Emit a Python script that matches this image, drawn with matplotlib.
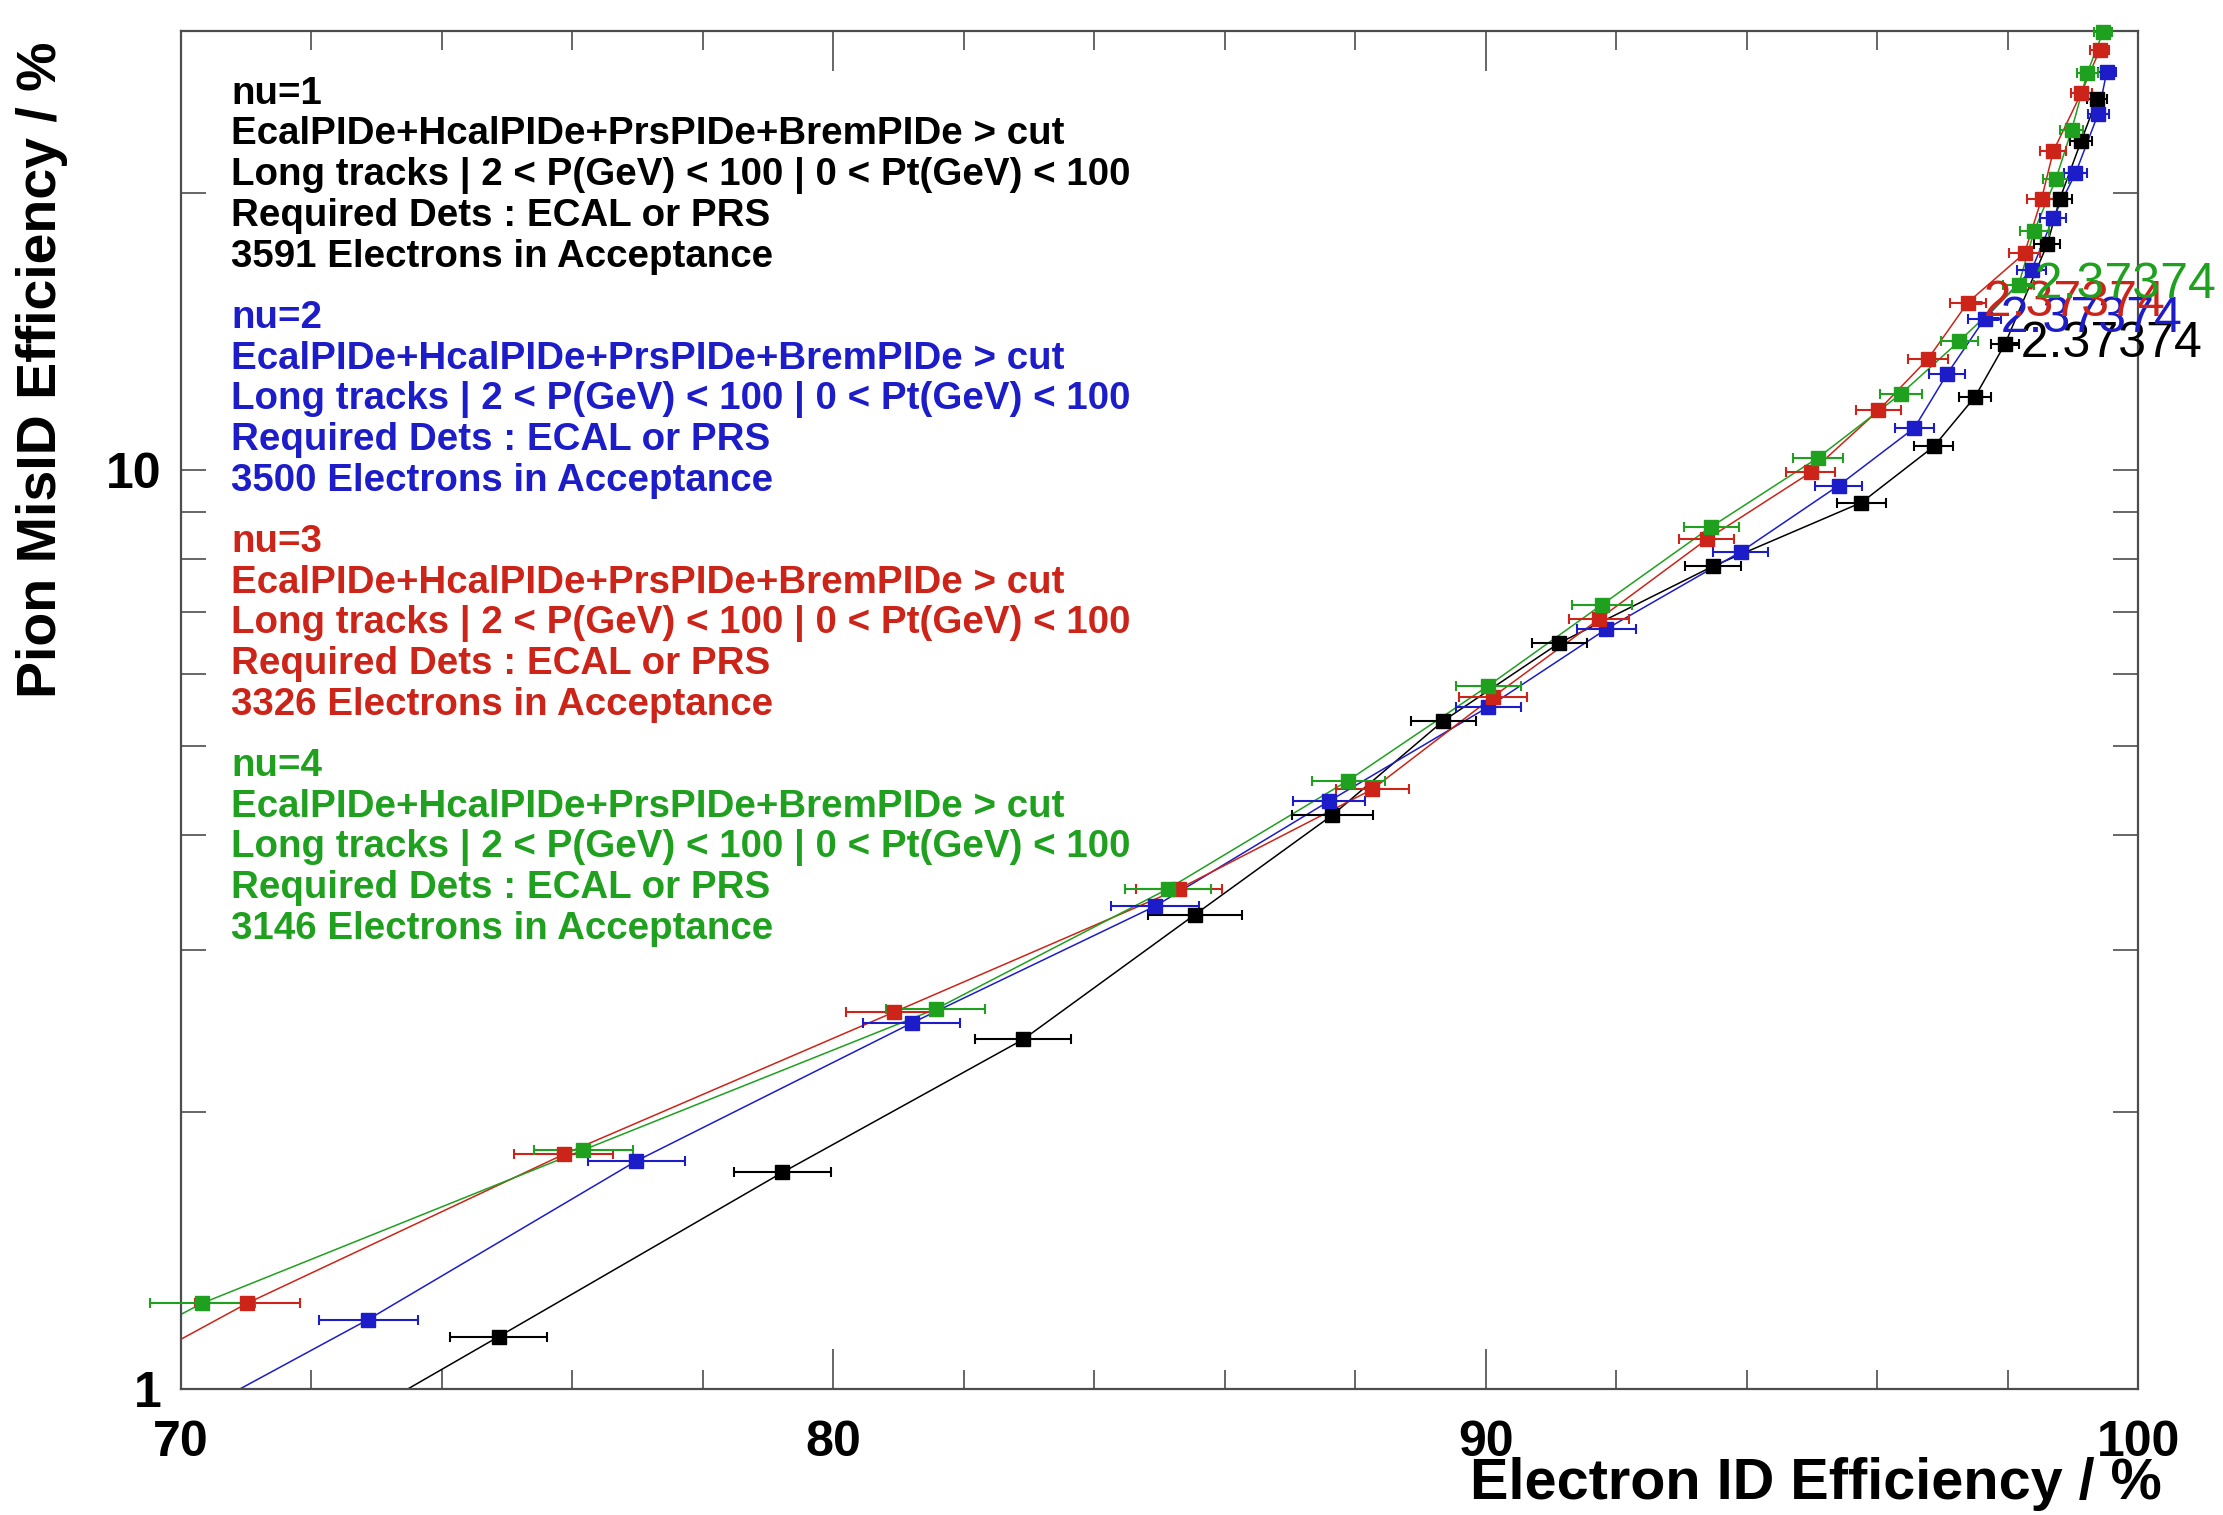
import numpy as np
import matplotlib
matplotlib.use("Agg")
import matplotlib.pyplot as plt
from matplotlib.ticker import NullFormatter

plt.rcParams['font.family'] = ['Liberation Sans', 'DejaVu Sans']
plt.rcParams['font.weight'] = 'bold'

# electron ID efficiency (%), pion misID efficiency (%) and x errors per nu
# (first point of each curve sits below the plotted range)
eff_nu1 = [68.9, 74.87, 79.22, 82.91, 85.54, 87.65, 89.35, 91.13, 93.48, 95.76,
           96.87, 97.50, 97.96, 98.61, 98.80, 99.13, 99.37]
mis_nu1 = [0.65, 1.14, 1.72, 2.40, 3.28, 4.21, 5.33, 6.48, 7.85, 9.21,
           10.6, 12.0, 13.7, 17.6, 19.7, 22.8, 25.3]
err_nu1 = [0.76, 0.74, 0.74, 0.74, 0.72, 0.62, 0.50, 0.42, 0.43, 0.37,
           0.30, 0.25, 0.22, 0.20, 0.19, 0.17, 0.15]

eff_nu2 = [67.5, 72.87, 76.98, 81.20, 84.93, 87.60, 90.04, 91.85, 93.91, 95.41,
           96.57, 97.07, 97.65, 98.37, 98.70, 99.04, 99.39, 99.52]
mis_nu2 = [0.74, 1.19, 1.77, 2.50, 3.35, 4.36, 5.52, 6.71, 8.14, 9.61,
           11.1, 12.7, 14.6, 16.5, 18.8, 21.0, 24.4, 27.1]
err_nu2 = [0.76, 0.76, 0.74, 0.74, 0.68, 0.55, 0.50, 0.45, 0.42, 0.36,
           0.30, 0.28, 0.25, 0.22, 0.20, 0.18, 0.16, 0.14]

eff_nu3 = [66.5, 71.02, 75.87, 80.93, 85.30, 88.26, 90.11, 91.74, 93.39, 94.98,
           96.02, 96.78, 97.39, 98.26, 98.52, 98.70, 99.13, 99.41]
mis_nu3 = [0.83, 1.24, 1.80, 2.57, 3.50, 4.49, 5.66, 6.88, 8.40, 9.93,
           11.6, 13.2, 15.2, 17.2, 19.7, 22.2, 25.7, 28.6]
err_nu3 = [0.80, 0.80, 0.76, 0.74, 0.66, 0.56, 0.52, 0.46, 0.42, 0.38,
           0.34, 0.30, 0.28, 0.24, 0.22, 0.20, 0.16, 0.14]

eff_nu4 = [66.0, 70.33, 76.17, 81.57, 85.13, 87.89, 90.04, 91.78, 93.46, 95.09,
           96.37, 97.26, 98.17, 98.41, 98.74, 98.98, 99.22, 99.46]
mis_nu4 = [0.855, 1.24, 1.82, 2.59, 3.50, 4.59, 5.82, 7.13, 8.67, 10.3,
           12.1, 13.8, 15.9, 18.2, 20.7, 23.4, 27.0, 29.9]
err_nu4 = [0.80, 0.80, 0.76, 0.76, 0.66, 0.56, 0.50, 0.46, 0.42, 0.38,
           0.32, 0.28, 0.24, 0.22, 0.20, 0.18, 0.16, 0.14]

# index of the point carrying the cut value label, and the label
cut_index = [12, 12, 12, 12]
cut_label = "-2.37374"

nu_names = ["nu=1", "nu=2", "nu=3", "nu=4"]
n_electrons = [3591, 3500, 3326, 3146]
colors = ['#000000', '#1c1cc8', '#cc2418', '#1fa01f']

info_lines = ["EcalPIDe+HcalPIDe+PrsPIDe+BremPIDe > cut",
              "Long tracks | 2 < P(GeV) < 100 | 0 < Pt(GeV) < 100",
              "Required Dets : ECAL or PRS",
              "{} Electrons in Acceptance"]

curves = [(eff_nu1, mis_nu1, err_nu1), (eff_nu2, mis_nu2, err_nu2),
          (eff_nu3, mis_nu3, err_nu3), (eff_nu4, mis_nu4, err_nu4)]

W, H = 2223, 1515
fig = plt.figure(figsize=(W / 100, H / 100), dpi=100)
fig.patch.set_facecolor('white')
ax = fig.add_axes([0.0814, 0.0832, 0.8804, 0.8963])

for (eff, mis, err), col, ci in zip(curves, colors, cut_index):
    ax.plot(eff, mis, '-', color=col, lw=1.1, zorder=2)
    ax.errorbar(eff[1:], mis[1:], xerr=err[1:], fmt='s', color=col,
                ms=10.5, elinewidth=1.5, capsize=3.5, capthick=1.5,
                clip_on=False, zorder=3)
    ax.text(eff[ci], mis[ci], cut_label, color=col, fontsize=36,
            fontweight='normal', ha='left', va='center', zorder=4)

ax.set_xlim(70, 100)
ax.set_yscale('log')
ax.set_ylim(1, 30)

ax.set_xticks([70, 80, 90, 100])
ax.set_xticklabels(['70', '80', '90', '100'])
ax.set_xticks(np.arange(70, 101, 2), minor=True)
ax.set_yticks([1, 10])
ax.set_yticklabels(['1', '10'])
ax.set_yticks([2, 3, 4, 5, 6, 7, 8, 9, 20, 30], minor=True)
ax.yaxis.set_minor_formatter(NullFormatter())

frame_col = '#4d4d4d'
ax.tick_params(axis='x', which='major', direction='in', length=29, width=1.2,
               color=frame_col, top=True, labelsize=36, pad=22)
ax.tick_params(axis='x', which='minor', direction='in', length=14, width=1.2,
               color=frame_col, top=True)
ax.tick_params(axis='y', which='both', direction='in', length=18, width=1.2,
               color=frame_col, right=True, labelsize=36, pad=14)
for sp in ax.spines.values():
    sp.set_color(frame_col)
    sp.set_linewidth(1.6)

ax.set_xlabel("Electron ID Efficiency / %", fontsize=41.5, fontweight='bold',
              ha='right', va='center')
ax.xaxis.set_label_coords(1.012, -0.07)
ax.set_ylabel("Pion MisID Efficiency / %", fontsize=40, fontweight='bold',
              ha='right', va='center')
ax.yaxis.set_label_coords(-0.071, 0.992)

# info block, one group of five lines per nu
x0 = 231 / W
for g, (name, n, col) in enumerate(zip(nu_names, n_electrons, colors)):
    lines = [name] + info_lines[:3] + [info_lines[3].format(n)]
    for i, txt in enumerate(lines):
        ypix = 93.6 + (g * 5.5 + i) * 40.76
        fig.text(x0, 1 - ypix / H, txt, color=col, fontsize=27.7,
                 ha='left', va='center')

fig.savefig('out.png', dpi=100, facecolor='white')
